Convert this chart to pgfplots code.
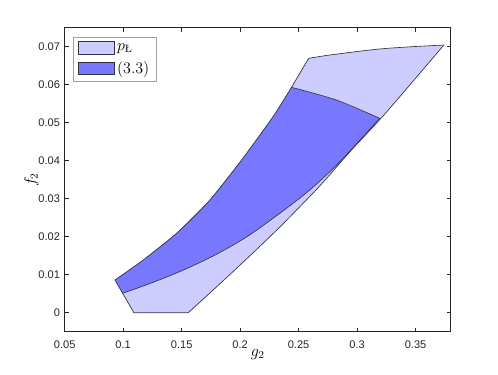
\documentclass[border=0pt]{standalone}
\usepackage{amsmath}
\usepackage{pgfplots}
\pgfplotsset{compat=1.18}
\usepackage{fontspec}
\newfontfamily\tickfont{Liberation Sans}
\definecolor{lightc}{RGB}{204,204,255}
\definecolor{darkc}{RGB}{120,120,255}
\definecolor{edgec}{RGB}{50,50,60}
\definecolor{axc}{RGB}{38,38,38}
\begin{document}
\begin{tikzpicture}
\useasboundingbox (-48.5pt,-31.7pt) rectangle (325pt,248.8pt);
\begin{axis}[
  at={(0,0)}, anchor=south west,
  scale only axis, width=289.5pt, height=228pt,
  xmin=0.05, xmax=0.38, ymin=-0.005, ymax=0.075,
  xtick={0.05,0.1,0.15,0.2,0.25,0.3,0.35},
  ytick={0,0.01,0.02,0.03,0.04,0.05,0.06,0.07},
  scaled ticks=false,
  tick align=inside, major tick length=3pt,
  axis line style={axc, line width=0.5pt},
  every tick/.style={axc, line width=0.5pt},
  tick label style={font=\tickfont\fontsize{8.3}{9}\selectfont, text=axc, /pgf/number format/assume math mode=true, /pgf/number format/fixed, /pgf/number format/precision=2},
  xticklabel style={yshift=-3.5pt},
  xlabel={$g_2$}, ylabel={$f_2$},
  label style={font=\fontsize{12}{14}\selectfont},
  xlabel style={at={(axis description cs:0.5,0)}, anchor=center, yshift=-17pt},
  ylabel style={at={(axis description cs:0,0.5)}, anchor=center, yshift=25pt},
  legend style={at={(axis description cs:0,1)}, anchor=north west, xshift=6.5pt, yshift=-6.75pt,
    draw=gray!75, line width=0.6pt, font=\fontsize{12}{14}\selectfont,
    inner xsep=3pt, inner ysep=2.5pt, row sep=3pt},
  legend cell align=left,
  legend image code/.code={\draw[#1, line width=0.5pt] (0pt,-4.8pt) rectangle (27pt,4.8pt);},
]
% ---- p_L region (fill) ----
\addplot[fill=lightc, draw=none, forget plot] coordinates {
(0.1092,0) (0.1556,0) (0.1769,0.00597) (0.2054,0.01413) (0.2339,0.02255)
(0.2680,0.03334) (0.2936,0.04229) (0.3244,0.05255) (0.3742,0.07045)
(0.3449,0.06997) (0.3164,0.06932) (0.2766,0.06782) (0.2586,0.06695)
(0.2439,0.05932) (0.2281,0.05158) (0.2012,0.04018) (0.1741,0.02966)
(0.1456,0.02089) (0.1171,0.01387) (0.0930,0.00861) (0.0995,0.00511)
} -- cycle;
% ---- (3.3) region (fill) ----
\addplot[fill=darkc, draw=none, forget plot] coordinates {
(0.0930,0.00861) (0.0995,0.00511) (0.1228,0.00768) (0.1485,0.01084)
(0.1769,0.01492) (0.2054,0.01992) (0.2339,0.02616) (0.2595,0.03229)
(0.2851,0.03966) (0.3193,0.05116) (0.2823,0.05597) (0.2439,0.05932)
(0.2281,0.05158) (0.2012,0.04018) (0.1741,0.02966) (0.1456,0.02089)
(0.1171,0.01387)
} -- cycle;
% ---- edges ----
\addplot[draw=edgec, line width=0.5pt, forget plot] coordinates {
(0.0930,0.00861) (0.1092,0) (0.1556,0)};
\addplot[draw=edgec, line width=0.5pt, smooth, tension=0.5, forget plot] coordinates {
(0.1556,0) (0.1769,0.00597) (0.2054,0.01413) (0.2339,0.02255)
(0.2680,0.03334) (0.2936,0.04229) (0.3244,0.05255) (0.3742,0.07045)};
\addplot[draw=edgec, line width=0.5pt, smooth, tension=0.5, forget plot] coordinates {
(0.3742,0.07045) (0.3449,0.06997) (0.3164,0.06932) (0.2766,0.06782) (0.2586,0.06695)};
\addplot[draw=edgec, line width=0.5pt, forget plot] coordinates {
(0.2586,0.06695) (0.2439,0.05932)};
\addplot[draw=edgec, line width=0.5pt, smooth, tension=0.5, forget plot] coordinates {
(0.2439,0.05932) (0.2281,0.05158) (0.2012,0.04018) (0.1741,0.02966)
(0.1456,0.02089) (0.1171,0.01387) (0.0930,0.00861)};
\addplot[draw=edgec, line width=0.5pt, smooth, tension=0.5, forget plot] coordinates {
(0.0995,0.00511) (0.1228,0.00768) (0.1485,0.01084)
(0.1769,0.01492) (0.2054,0.01992) (0.2339,0.02616) (0.2595,0.03229)
(0.2851,0.03966) (0.3193,0.05116)};
\addplot[draw=edgec, line width=0.5pt, smooth, tension=0.5, forget plot] coordinates {
(0.3193,0.05116) (0.2823,0.05597) (0.2439,0.05932)};
% ---- legend ----
\addlegendimage{fill=lightc, draw=edgec}
\addlegendentry{$p_{\text{Ł}}$}
\addlegendimage{fill=darkc, draw=edgec}
\addlegendentry{(3.3)}
\end{axis}
\end{tikzpicture}
\end{document}
